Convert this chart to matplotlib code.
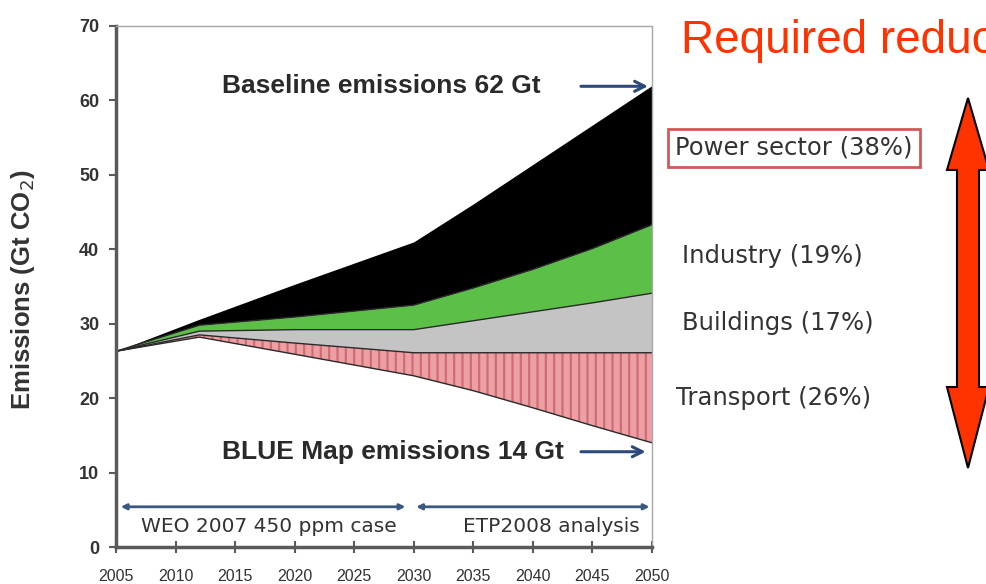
import numpy as np
import matplotlib.pyplot as plt
from matplotlib.patches import Polygon

# emissions pathways (Gt CO2)
years = [2005, 2012, 2020, 2030, 2035, 2040, 2045, 2050]
baseline = [26.3, 30.6, 35.3, 41.0, 46.1, 51.4, 56.7, 62.0]
after_power = [26.3, 29.8, 30.9, 32.5, 34.8, 37.3, 40.1, 43.3]
after_industry = [26.3, 29.0, 29.2, 29.2, 30.4, 31.6, 32.8, 34.1]
after_buildings = [26.3, 28.5, 27.4, 26.1, 26.1, 26.1, 26.1, 26.1]
blue_map = [26.3, 28.2, 25.9, 23.0, 21.0, 18.7, 16.3, 14.0]

sector_labels = ['Power sector (38%)', 'Industry (19%)', 'Buildings (17%)', 'Transport (26%)']

fig = plt.figure(figsize=(9.87, 5.84), dpi=100)
ax = fig.add_axes([116/987, 37/584, 536/987, 521/584])

ax.fill_between(years, after_power, baseline, color='black', lw=0)
ax.fill_between(years, after_industry, after_power, color='#5cbf48', lw=0)
ax.fill_between(years, after_buildings, after_industry, color='#c4c4c4', lw=0)
plt.rcParams['hatch.linewidth'] = 1.6
ax.fill_between(years, blue_map, after_buildings, facecolor='#eda0a4',
                edgecolor='#cf6c74', hatch='||', lw=0)

for s in [after_power, after_industry, after_buildings, blue_map]:
    ax.plot(years, s, color='#2a2a2a', lw=1)

ax.set_xlim(2005, 2050)
ax.set_ylim(0, 70)
ax.set_yticks(range(0, 71, 10))
ax.set_xticks(range(2005, 2051, 5))

for side in ['left', 'bottom']:
    ax.spines[side].set_color('#5a5a5a')
    ax.spines[side].set_linewidth(2.5)
for side in ['top', 'right']:
    ax.spines[side].set_color('#a8a8a8')
    ax.spines[side].set_linewidth(1)

ax.tick_params(axis='y', direction='out', length=5, width=1.5, color='#5a5a5a', pad=7,
               labelsize=13, labelcolor='#333333')
ax.tick_params(axis='x', direction='inout', length=8, width=1.5, color='#5a5a5a', pad=12,
               labelsize=11.5, labelcolor='#333333')
for lab in ax.get_yticklabels():
    lab.set_fontfamily('Liberation Sans')
    lab.set_fontweight('bold')
for lab in ax.get_xticklabels():
    lab.set_fontfamily('Liberation Sans')

fig.text(23/987, 1 - 290/584, 'Emissions (Gt CO$_2$)', rotation=90, ha='center', va='center',
         fontsize=18.5, fontweight='bold', family='Liberation Sans', color='#333333')

# baseline / BLUE map callouts
arrow_col = '#2b4a7a'
ax.text(2013.9, 61.9, 'Baseline emissions 62 Gt', fontsize=19, fontweight='bold',
        family='Liberation Sans', color='#2a2a2a', va='center')
ax.annotate('', xy=(2049.9, 61.9), xytext=(2043.8, 61.9),
            arrowprops=dict(arrowstyle='->', color=arrow_col, lw=2.2, mutation_scale=18))
ax.text(2013.9, 12.8, 'BLUE Map emissions 14 Gt', fontsize=19, fontweight='bold',
        family='Liberation Sans', color='#2a2a2a', va='center')
ax.annotate('', xy=(2049.7, 12.8), xytext=(2043.8, 12.8),
            arrowprops=dict(arrowstyle='->', color=arrow_col, lw=2.2, mutation_scale=18))

# period markers
ax.annotate('', xy=(2005.4, 5.4), xytext=(2029.3, 5.4),
            arrowprops=dict(arrowstyle='<|-|>', color='#3a5880', lw=2, mutation_scale=8,
                            shrinkA=0, shrinkB=0))
ax.annotate('', xy=(2030.2, 5.4), xytext=(2049.8, 5.4),
            arrowprops=dict(arrowstyle='<|-|>', color='#3a5880', lw=2, mutation_scale=8,
                            shrinkA=0, shrinkB=0))
ax.text(2007.1, 2.7, 'WEO 2007 450 ppm case', fontsize=14.5, family='DejaVu Sans',
        color='#333333', ha='left', va='center')
ax.text(2049.0, 2.7, 'ETP2008 analysis', fontsize=14.5, family='DejaVu Sans',
        color='#333333', ha='right', va='center')

# sector labels on the right
label_pos = [(675, 148), (682, 256), (682, 323), (676, 398)]
for lab, (px, py) in zip(sector_labels, label_pos):
    kw = {}
    if lab.startswith('Power'):
        kw['bbox'] = dict(boxstyle='square,pad=0.3', fc='white', ec='#d05a5a', lw=2)
    fig.text(px/987, 1 - py/584, lab, fontsize=17.5, family='DejaVu Sans', color='#333333',
             ha='left', va='center', **kw)

fig.text(681/987, 1 - 53/584, 'Required reduc', fontsize=33, family='Liberation Sans',
         color='#ff3300', ha='left', va='baseline')

# big red double arrow
pts = [(968, 98), (989, 170), (979, 170), (979, 387), (989, 387), (968, 468),
       (947, 387), (957, 387), (957, 170), (947, 170)]
arrow = Polygon([(x/987, 1 - y/584) for x, y in pts], closed=True, transform=fig.transFigure,
                facecolor='#ff3300', edgecolor='black', lw=1.5)
fig.patches.append(arrow)

fig.savefig('out.png', dpi=100)
